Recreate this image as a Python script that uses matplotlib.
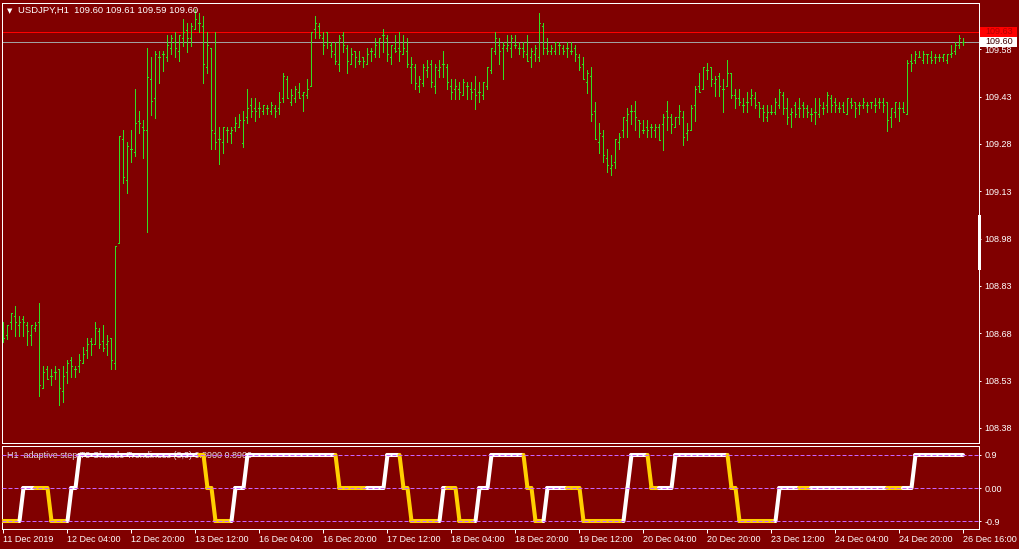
import matplotlib
matplotlib.use('Agg')
import matplotlib.pyplot as plt
import numpy as np
from matplotlib.collections import LineCollection
from matplotlib.patches import Rectangle

plt.rcParams['font.family'] = ['Liberation Sans', 'DejaVu Sans']

# ---------------- data (USDJPY H1) ----------------
opens = [
 108.690,108.673,108.714,108.733,108.705,108.724,108.705,108.673,108.695,108.714,
 108.505,108.565,108.544,108.556,108.565,108.496,108.556,108.595,108.565,108.576,
 108.584,108.627,108.654,108.645,108.686,108.654,108.645,108.665,108.584,108.965,
 109.294,109.165,109.263,109.253,109.353,109.332,109.324,109.485,109.424,109.554,
 109.564,109.554,109.583,109.604,109.574,109.615,109.642,109.615,109.643,109.662,
 109.654,109.523,109.585,109.313,109.294,109.285,109.324,109.313,109.334,109.332,
 109.284,109.364,109.403,109.393,109.393,109.384,109.393,109.384,109.393,109.393,
 109.424,109.485,109.414,109.424,109.444,109.435,109.435,109.463,109.643,109.654,
 109.615,109.634,109.593,109.564,109.533,109.625,109.583,109.533,109.574,109.544,
 109.554,109.533,109.574,109.564,109.604,109.625,109.615,109.554,109.583,109.583,
 109.564,109.574,109.523,109.523,109.463,109.474,109.514,109.533,109.463,109.514,
 109.533,109.523,109.463,109.453,109.453,109.434,109.463,109.453,109.453,109.444,
 109.434,109.463,109.514,109.574,109.593,109.583,109.583,109.583,109.593,109.583,
 109.583,109.564,109.554,109.564,109.554,109.654,109.583,109.574,109.574,109.593,
 109.583,109.583,109.574,109.583,109.554,109.533,109.476,109.495,109.384,109.285,
 109.305,109.234,109.202,109.223,109.285,109.324,109.356,109.384,109.384,109.356,
 109.324,109.334,109.332,109.324,109.332,109.343,109.384,109.364,109.332,109.364,
 109.364,109.313,109.324,109.403,109.463,109.453,109.514,109.525,109.474,109.495,
 109.453,109.463,109.506,109.435,109.424,109.403,109.414,109.424,109.424,109.414,
 109.393,109.364,109.382,109.382,109.403,109.435,109.393,109.375,109.403,109.393,
 109.403,109.393,109.375,109.382,109.375,109.393,109.403,109.424,109.414,109.393,
 109.403,109.375,109.414,109.414,109.403,109.403,109.403,109.414,109.403,109.414,
 109.414,109.414,109.364,109.382,109.393,109.393,109.375,109.544,109.546,109.554,
 109.546,109.565,109.554,109.554,109.554,109.554,109.546,109.565,109.575,109.593,
 109.604]
highs = [
 108.714,108.706,108.743,108.766,108.733,108.733,108.714,108.705,108.714,108.775,
 108.576,108.576,108.565,108.576,108.565,108.576,108.595,108.604,108.576,108.614,
 108.636,108.665,108.665,108.714,108.695,108.705,108.674,108.665,108.956,109.305,
 109.324,109.285,109.324,109.454,109.384,109.356,109.583,109.556,109.574,109.574,
 109.574,109.625,109.625,109.634,109.625,109.676,109.663,109.663,109.707,109.694,
 109.685,109.634,109.585,109.634,109.332,109.332,109.332,109.334,109.364,109.375,
 109.384,109.454,109.424,109.424,109.414,109.403,109.403,109.414,109.403,109.444,
 109.504,109.495,109.454,109.463,109.474,109.444,109.485,109.634,109.685,109.662,
 109.634,109.634,109.604,109.604,109.625,109.634,109.593,109.583,109.574,109.574,
 109.554,109.583,109.583,109.615,109.615,109.643,109.625,109.593,109.625,109.634,
 109.625,109.615,109.554,109.533,109.495,109.533,109.546,109.546,109.533,109.546,
 109.574,109.533,109.485,109.485,109.476,109.485,109.476,109.476,109.495,109.476,
 109.476,109.525,109.583,109.634,109.615,109.604,109.625,109.625,109.625,109.604,
 109.604,109.625,109.583,109.593,109.694,109.662,109.615,109.593,109.604,109.604,
 109.593,109.604,109.604,109.593,109.564,109.554,109.514,109.525,109.414,109.345,
 109.324,109.263,109.244,109.294,109.313,109.364,109.393,109.403,109.416,109.356,
 109.356,109.356,109.343,109.343,109.343,109.375,109.416,109.375,109.364,109.403,
 109.384,109.345,109.403,109.463,109.506,109.525,109.535,109.525,109.495,109.506,
 109.485,109.546,109.506,109.453,109.453,109.424,109.445,109.453,109.445,109.414,
 109.403,109.403,109.403,109.424,109.453,109.445,109.424,109.393,109.414,109.424,
 109.414,109.403,109.393,109.424,109.424,109.414,109.445,109.435,109.424,109.414,
 109.414,109.424,109.424,109.414,109.414,109.424,109.414,109.414,109.424,109.424,
 109.424,109.414,109.393,109.414,109.414,109.414,109.546,109.565,109.573,109.573,
 109.573,109.565,109.573,109.565,109.565,109.565,109.565,109.593,109.604,109.625,
 109.615]
lows = [
 108.653,108.661,108.693,108.672,108.672,108.672,108.643,108.643,108.686,108.482,
 108.505,108.534,108.515,108.534,108.453,108.463,108.523,108.542,108.542,108.556,
 108.584,108.602,108.612,108.645,108.634,108.624,108.612,108.565,108.565,108.965,
 109.155,109.123,109.223,109.242,109.313,109.234,109.001,109.371,109.363,109.474,
 109.512,109.544,109.564,109.554,109.544,109.591,109.572,109.591,109.643,109.634,
 109.474,109.504,109.263,109.263,109.215,109.252,109.285,109.284,109.322,109.332,
 109.271,109.345,109.364,109.353,109.364,109.374,109.374,109.374,109.364,109.374,
 109.414,109.424,109.403,109.414,109.424,109.384,109.424,109.463,109.615,109.615,
 109.564,109.583,109.554,109.533,109.512,109.572,109.504,109.533,109.523,109.533,
 109.523,109.533,109.544,109.554,109.554,109.572,109.544,109.533,109.572,109.544,
 109.564,109.523,109.474,109.454,109.444,109.463,109.493,109.461,109.442,109.493,
 109.493,109.453,109.423,109.423,109.423,109.434,109.423,109.423,109.391,109.414,
 109.423,109.453,109.504,109.564,109.533,109.485,109.574,109.554,109.583,109.564,
 109.554,109.544,109.523,109.544,109.544,109.564,109.564,109.564,109.564,109.564,
 109.564,109.554,109.564,109.544,109.514,109.485,109.442,109.353,109.294,109.252,
 109.223,109.192,109.182,109.202,109.263,109.303,109.303,109.343,109.324,109.303,
 109.313,109.303,109.303,109.303,109.292,109.260,109.324,109.313,109.332,109.343,
 109.276,109.292,109.324,109.353,109.445,109.453,109.485,109.463,109.432,109.432,
 109.382,109.463,109.424,109.393,109.403,109.382,109.382,109.403,109.393,109.364,
 109.353,109.353,109.375,109.375,109.393,109.375,109.343,109.332,109.364,109.364,
 109.364,109.364,109.353,109.343,109.364,109.375,109.382,109.382,109.382,109.382,
 109.382,109.375,109.393,109.364,109.375,109.393,109.382,109.393,109.382,109.393,
 109.382,109.322,109.332,109.364,109.353,109.382,109.375,109.512,109.535,109.554,
 109.535,109.535,109.535,109.535,109.544,109.544,109.535,109.554,109.565,109.583,
 109.593]
closes = [
 108.664,108.706,108.743,108.714,108.714,108.714,108.686,108.705,108.705,108.515,
 108.556,108.534,108.544,108.556,108.505,108.544,108.584,108.576,108.565,108.595,
 108.614,108.645,108.645,108.695,108.645,108.634,108.654,108.595,108.956,109.305,
 109.174,109.273,109.263,109.345,109.345,109.324,109.493,109.416,109.564,109.554,
 109.564,109.593,109.615,109.583,109.625,109.634,109.615,109.654,109.676,109.662,
 109.533,109.593,109.324,109.285,109.294,109.332,109.324,109.324,109.345,109.356,
 109.356,109.393,109.384,109.384,109.393,109.403,109.393,109.403,109.384,109.414,
 109.495,109.424,109.435,109.454,109.424,109.444,109.454,109.634,109.662,109.625,
 109.593,109.604,109.574,109.544,109.615,109.593,109.544,109.564,109.554,109.544,
 109.544,109.564,109.574,109.593,109.615,109.625,109.564,109.593,109.574,109.574,
 109.583,109.533,109.533,109.474,109.485,109.523,109.523,109.476,109.523,109.523,
 109.533,109.476,109.444,109.463,109.444,109.476,109.463,109.444,109.434,109.444,
 109.476,109.523,109.583,109.615,109.574,109.593,109.593,109.615,109.593,109.583,
 109.574,109.544,109.574,109.583,109.662,109.583,109.574,109.583,109.604,109.593,
 109.574,109.583,109.574,109.564,109.523,109.485,109.504,109.374,109.294,109.313,
 109.244,109.214,109.214,109.294,109.303,109.364,109.375,109.384,109.364,109.345,
 109.324,109.324,109.332,109.332,109.292,109.364,109.364,109.343,109.364,109.384,
 109.303,109.324,109.393,109.453,109.445,109.525,109.514,109.485,109.485,109.463,
 109.453,109.506,109.435,109.424,109.414,109.403,109.414,109.435,109.403,109.393,
 109.382,109.382,109.382,109.414,109.445,109.393,109.364,109.382,109.375,109.393,
 109.393,109.382,109.375,109.382,109.403,109.393,109.435,109.403,109.403,109.393,
 109.382,109.424,109.403,109.393,109.403,109.414,109.403,109.414,109.403,109.414,
 109.403,109.356,109.393,109.414,109.393,109.382,109.535,109.535,109.565,109.554,
 109.565,109.565,109.546,109.554,109.554,109.565,109.565,109.567,109.593,109.615,
 109.604]

price_ticks = [108.38, 108.53, 108.68, 108.83, 108.98, 109.13, 109.28, 109.43, 109.58]
time_tick_bars = [0, 16, 32, 48, 64, 80, 96, 112, 128, 144, 160, 176, 192, 208, 224, 240]
time_tick_labels = ['11 Dec 2019', '12 Dec 04:00', '12 Dec 20:00', '13 Dec 12:00',
                    '16 Dec 04:00', '16 Dec 20:00', '17 Dec 12:00', '18 Dec 04:00',
                    '18 Dec 20:00', '19 Dec 12:00', '20 Dec 04:00', '20 Dec 20:00',
                    '23 Dec 12:00', '24 Dec 04:00', '24 Dec 20:00', '26 Dec 16:00']
ask_price = 109.634
bid_price = 109.604
title_text = 'USDJPY,H1  109.60 109.61 109.59 109.60'
ind_title = 'H1  adaptive step T3 Chande Trendiness (8,3) 0.8900 0.8900'

# indicator: run-length encoded step values and colour state (w = rising, g = falling)
ind_run_values = [-0.9, 0.0, 0.0, -0.9, 0.0, 0.9, 0.9, 0.0, -0.9, 0.0, 0.9, 0.0, 0.0,
                  0.9, 0.0, -0.9, 0.0, 0.0, -0.9, 0.0, 0.9, 0.0, -0.9, 0.0, 0.0,
                  -0.9, 0.0, 0.9, 0.0, 0.0, 0.9, 0.0, -0.9, 0.0, 0.0, 0.0, 0.0, 0.0, 0.9]
ind_run_counts = [5, 4, 3, 5, 2, 31, 1, 2, 5, 3, 23, 8, 4,
                  4, 2, 8, 2, 2, 5, 3, 9, 2, 3, 6, 3,
                  11, 1, 5, 3, 3, 14, 2, 10, 6, 3, 19, 4, 2, 13]
ind_run_colors = ['g', 'w', 'g', 'g', 'w', 'w', 'g', 'g', 'g', 'w', 'w', 'g', 'w',
                  'w', 'g', 'g', 'w', 'g', 'g', 'w', 'w', 'g', 'g', 'w', 'g',
                  'g', 'w', 'w', 'g', 'w', 'w', 'g', 'g', 'w', 'g', 'w', 'g', 'w', 'w']
ind_levels = [0.9, 0.0, -0.9]

# ---------------- styling ----------------
BG = '#800000'
BAR = '#33dd22'
WHITE = '#ffffff'
GOLD = '#ffd000'
LEVEL = '#c864ff'
W, H = 1020, 549
PX = 0.72  # one pixel in points

fig = plt.figure(figsize=(W / 100, H / 100), dpi=100, facecolor=BG)

def fx(px):
    return px / W

def fy(py):
    return 1 - py / H

# main price panel
ax = fig.add_axes([fx(2.5), fy(442.5), 977 / W, 440 / H])
ax.set_facecolor(BG)
for sp in ax.spines.values():
    sp.set_color(WHITE)
    sp.set_linewidth(PX)
ax.set_xlim(-0.25, 244.0)
ax.set_ylim(108.3335, 109.7281)
ax.set_xticks([])
ax.yaxis.tick_right()
ax.set_yticks(price_ticks)
ax.set_yticklabels(['%.2f' % p for p in price_ticks])
ax.tick_params(axis='y', direction='out', length=1.5, width=PX, color=WHITE,
               labelcolor=WHITE, labelsize=6.5, pad=2)

x = np.arange(len(opens))
ax.axhline(ask_price, color='#ff0000', lw=PX, zorder=1)
ax.axhline(bid_price, color='#a0a0a0', lw=PX, zorder=1)
ax.vlines(x, lows, highs, colors=BAR, lw=PX, antialiased=False, zorder=2)
ax.hlines(opens, x - 0.25, x, colors=BAR, lw=PX, antialiased=False, zorder=2)
ax.hlines(closes, x, x + 0.25, colors=BAR, lw=PX, antialiased=False, zorder=2)

ax.text(fx(6.5), fy(10.8), '\u25BC', transform=fig.transFigure, color=WHITE,
        fontsize=5, va='center', ha='left', family='DejaVu Sans')
ax.text(fx(18), fy(10.8), title_text, transform=fig.transFigure, color=WHITE,
        fontsize=6.8, va='center', ha='left')

# price labels at right
fig.add_artist(Rectangle((fx(980.5), fy(36.7)), 36.5 / W, 10 / H, transform=fig.transFigure,
                         facecolor='#ff0000', edgecolor='none'))
fig.text(fx(998.7), fy(31.7), '%.2f' % ask_price, color='#b00000', fontsize=6.5,
         ha='center', va='center')
fig.add_artist(Rectangle((fx(980.5), fy(46.7)), 36.5 / W, 10 / H, transform=fig.transFigure,
                         facecolor=WHITE, edgecolor='none'))
fig.text(fx(998.7), fy(41.7), '%.2f' % bid_price, color='#400000', fontsize=6.5,
         ha='center', va='center')
# white marker on right border
fig.add_artist(Rectangle((fx(978.3), fy(270)), 2.7 / W, 55 / H, transform=fig.transFigure,
                         facecolor=WHITE, edgecolor='none'))

# indicator panel
ax2 = fig.add_axes([fx(2.5), fy(528.5), 977 / W, 83 / H])
ax2.set_facecolor(BG)
for sp in ax2.spines.values():
    sp.set_color(WHITE)
    sp.set_linewidth(PX)
ax2.set_xlim(-0.25, 244.0)
ax2.set_ylim(-1.104, 1.159)
ax2.yaxis.tick_right()
ax2.set_yticks(ind_levels)
ax2.set_yticklabels(['0.9', '0.00', '-0.9'])
ax2.tick_params(axis='y', direction='out', length=1.5, width=PX, color=WHITE,
                labelcolor=WHITE, labelsize=6.5, pad=2)
ax2.set_xticks(time_tick_bars)
ax2.set_xticklabels(time_tick_labels)
ax2.tick_params(axis='x', direction='out', length=3, width=PX, color=WHITE,
                labelcolor=WHITE, labelsize=6.5, pad=1.5)
for lab in ax2.get_xticklabels():
    lab.set_ha('left')

vals = np.repeat(ind_run_values, ind_run_counts)
cols = np.repeat(ind_run_colors, ind_run_counts)
segs = [[(i - 1, vals[i - 1]), (i, vals[i])] for i in range(1, len(vals))]
seg_cols = [WHITE if c == 'w' else GOLD for c in cols[1:]]
lc = LineCollection(segs, colors=seg_cols, linewidths=2.9, capstyle='round', zorder=3)
ax2.add_collection(lc)
for lev in ind_levels:
    ax2.axhline(lev, color=LEVEL, lw=PX, ls=(0, (4, 2)), zorder=4)

ax2.text(fx(7), fy(455), ind_title, transform=fig.transFigure, color='#e0e0e0',
         fontsize=6.5, va='center', ha='left', zorder=2)

fig.savefig('out.png', dpi=100, facecolor=BG)
